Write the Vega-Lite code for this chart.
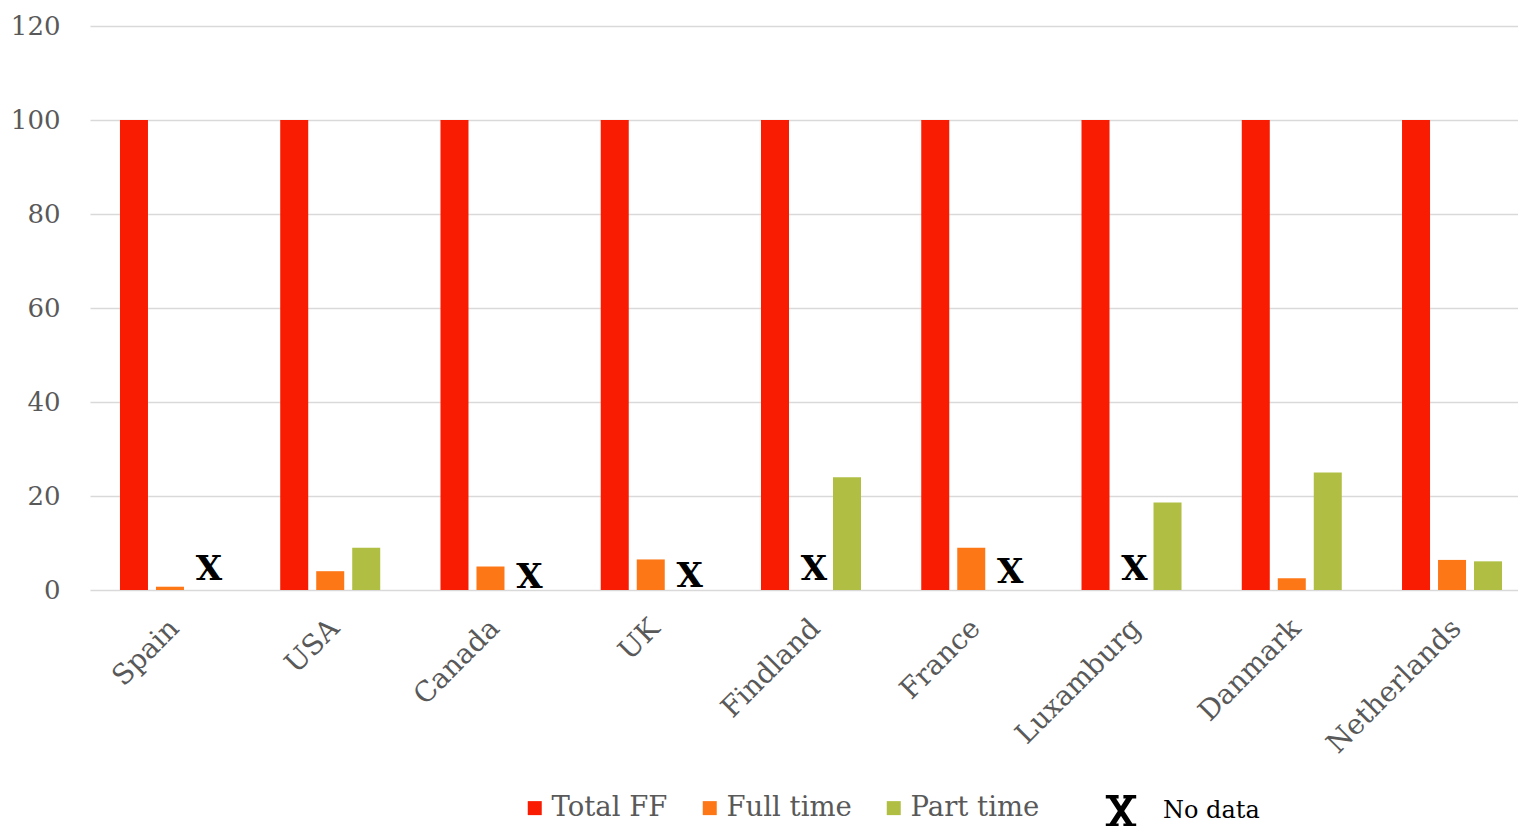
{
  "$schema": "https://vega.github.io/schema/vega-lite/v6.json",
  "width": 1428,
  "height": 564,
  "autosize": {"type": "none"},
  "padding": {"left": 90, "top": 26, "right": 0, "bottom": 236},
  "background": "white",
  "config": {
    "view": {"stroke": null},
    "font": "DejaVu Serif"
  },
  "datasets": {
    "bars": [
      {"country": "Spain", "series": "Total FF", "value": 100},
      {"country": "Spain", "series": "Full time", "value": 0.7},
      {"country": "USA", "series": "Total FF", "value": 100},
      {"country": "USA", "series": "Full time", "value": 4.0},
      {"country": "USA", "series": "Part time", "value": 9.0},
      {"country": "Canada", "series": "Total FF", "value": 100},
      {"country": "Canada", "series": "Full time", "value": 5.0},
      {"country": "UK", "series": "Total FF", "value": 100},
      {"country": "UK", "series": "Full time", "value": 6.5},
      {"country": "Findland", "series": "Total FF", "value": 100},
      {"country": "Findland", "series": "Part time", "value": 24.0},
      {"country": "France", "series": "Total FF", "value": 100},
      {"country": "France", "series": "Full time", "value": 9.0},
      {"country": "Luxamburg", "series": "Total FF", "value": 100},
      {"country": "Luxamburg", "series": "Part time", "value": 18.6},
      {"country": "Danmark", "series": "Total FF", "value": 100},
      {"country": "Danmark", "series": "Full time", "value": 2.5},
      {"country": "Danmark", "series": "Part time", "value": 25.0},
      {"country": "Netherlands", "series": "Total FF", "value": 100},
      {"country": "Netherlands", "series": "Full time", "value": 6.4},
      {"country": "Netherlands", "series": "Part time", "value": 6.1}
    ],
    "nodata": [
      {"country": "Spain", "series": "Part time", "pos": 4.3, "note": "No data"},
      {"country": "Canada", "series": "Part time", "pos": 2.5, "note": "No data"},
      {"country": "UK", "series": "Part time", "pos": 2.7, "note": "No data"},
      {"country": "Findland", "series": "Full time", "pos": 4.2, "note": "No data"},
      {"country": "France", "series": "Part time", "pos": 3.7, "note": "No data"},
      {"country": "Luxamburg", "series": "Full time", "pos": 4.2, "note": "No data"}
    ]
  },
  "encoding": {
    "x": {
      "field": "country",
      "type": "nominal",
      "scale": {
        "domain": ["Spain", "USA", "Canada", "UK", "Findland", "France", "Luxamburg", "Danmark", "Netherlands"],
        "range": [0, 1442],
        "paddingInner": 0.376,
        "paddingOuter": 0.187
      },
      "axis": {
        "title": null,
        "domain": false,
        "ticks": false,
        "labelAngle": -45,
        "labelFontSize": 28,
        "labelColor": "#595959",
        "labelFont": "DejaVu Serif",
        "labelPadding": 24,
        "labelOffset": -5
      }
    },
    "xOffset": {
      "field": "series",
      "type": "nominal",
      "scale": {
        "domain": ["Total FF", "Full time", "Part time"],
        "paddingInner": 0.222,
        "paddingOuter": 0
      }
    }
  },
  "layer": [
    {
      "data": {"name": "bars"},
      "mark": {"type": "bar"},
      "encoding": {
        "y": {
          "field": "value",
          "type": "quantitative",
          "scale": {"domain": [0, 120]},
          "axis": {
            "title": null,
            "domain": false,
            "ticks": false,
            "values": [0, 20, 40, 60, 80, 100, 120],
            "gridColor": "#d9d9d9",
            "gridWidth": 1.5,
            "labelFontSize": 26,
            "labelColor": "#595959",
            "labelFont": "DejaVu Serif",
            "labelPadding": 30
          }
        },
        "color": {
          "field": "series",
          "type": "nominal",
          "scale": {
            "domain": ["Total FF", "Full time", "Part time"],
            "range": ["#f91c03", "#fd7717", "#b0bf44"]
          },
          "legend": {
            "title": null,
            "orient": "none",
            "direction": "horizontal",
            "legendX": 431,
            "legendY": 768,
            "symbolType": "square",
            "symbolSize": 196,
            "symbolStrokeWidth": 0,
            "labelFontSize": 27.5,
            "labelFont": "DejaVu Serif",
            "labelColor": "#595959",
            "labelOffset": 3,
            "columnPadding": 28
          }
        }
      }
    },
    {
      "data": {"name": "nodata"},
      "mark": {"type": "point", "filled": true, "opacity": 0, "color": "black"},
      "encoding": {
        "y": {"field": "pos", "type": "quantitative"},
        "shape": {
          "field": "note",
          "type": "nominal",
          "scale": {
            "domain": ["No data"],
            "range": ["M-0.75,-0.85 L-0.35,-0.85 L0.75,0.85 L0.35,0.85 Z M0.35,-0.85 L0.75,-0.85 L-0.35,0.85 L-0.75,0.85 Z M-0.95,-1 L-0.15,-1 L-0.15,-0.78 L-0.95,-0.78 Z M0.15,-1 L0.95,-1 L0.95,-0.78 L0.15,-0.78 Z M-0.95,0.78 L-0.15,0.78 L-0.15,1 L-0.95,1 Z M0.15,0.78 L0.95,0.78 L0.95,1 L0.15,1 Z"]
          },
          "legend": {
            "title": null,
            "orient": "none",
            "legendX": 1015,
            "legendY": 769,
            "symbolSize": 1024,
            "symbolOpacity": 1,
            "symbolFillColor": "black",
            "symbolStrokeWidth": 0,
            "labelFontSize": 24,
            "labelFont": "DejaVu Serif",
            "labelColor": "black",
            "labelOffset": 26
          }
        }
      }
    },
    {
      "data": {"name": "nodata"},
      "mark": {
        "type": "text",
        "text": "X",
        "font": "DejaVu Serif",
        "fontWeight": "bold",
        "fontSize": 34,
        "color": "black",
        "baseline": "middle",
        "align": "center",
        "dx": 3
      },
      "encoding": {
        "y": {"field": "pos", "type": "quantitative"}
      }
    }
  ]
}
